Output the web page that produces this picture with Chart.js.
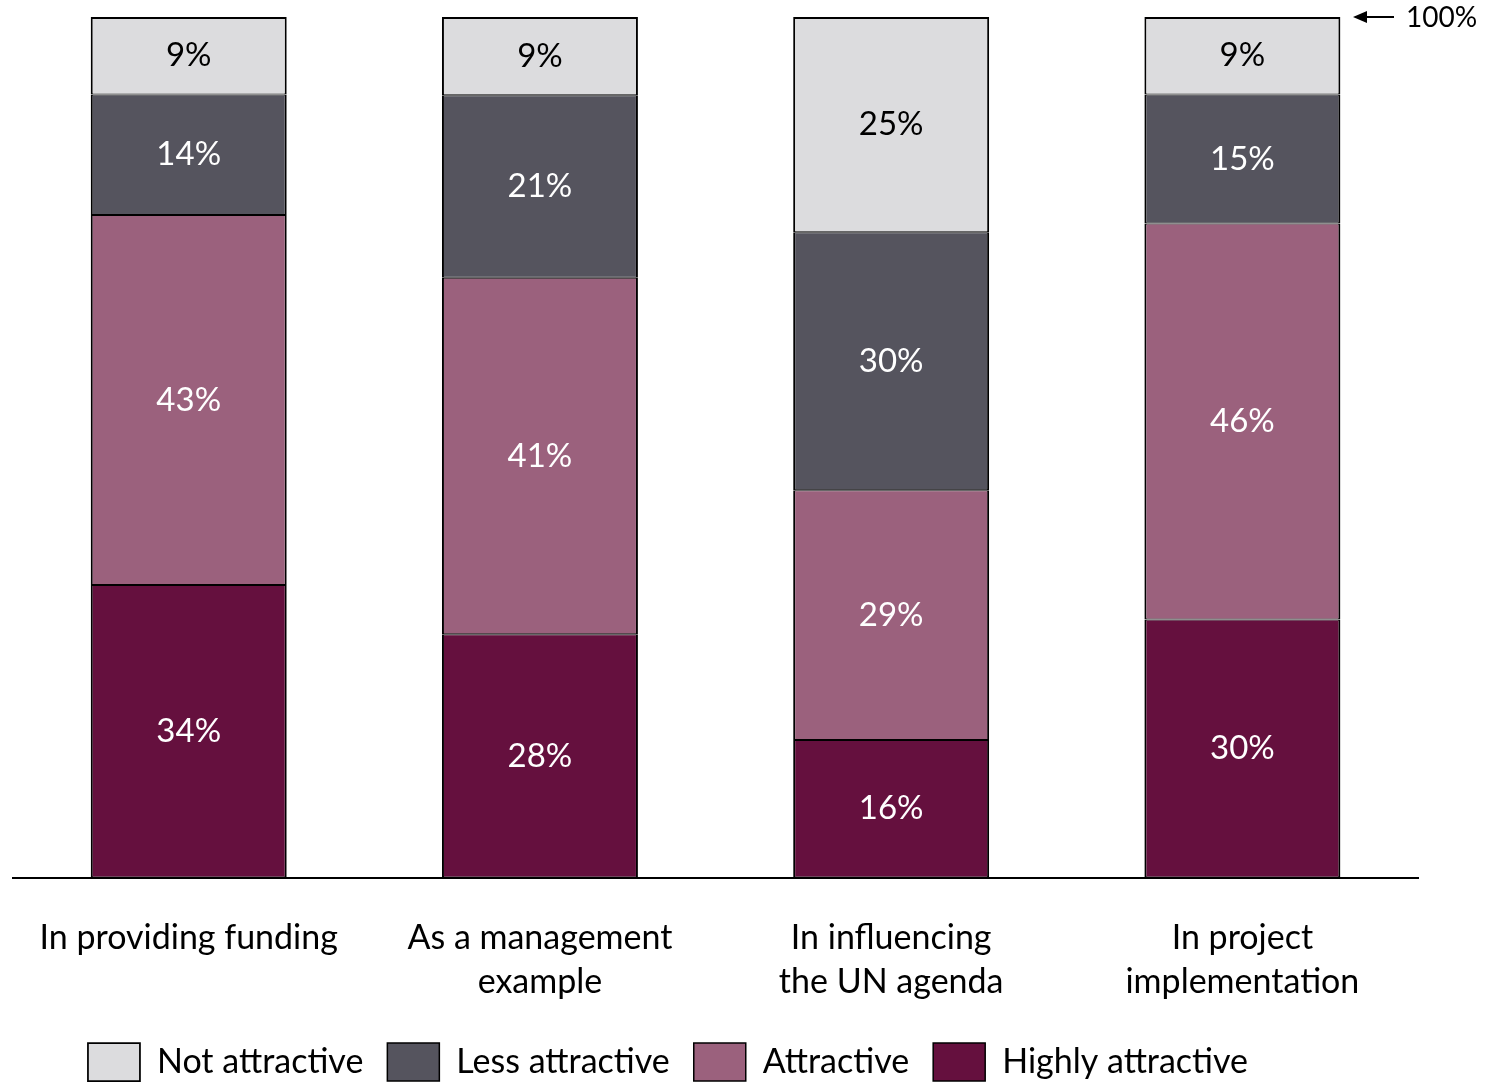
<!DOCTYPE html>
<html>
<head>
<meta charset="utf-8">
<script src="https://cdn.jsdelivr.net/npm/chart.js@4"></script>
<style>
  html, body { margin: 0; padding: 0; background: #fff; }
  #wrap { width: 1485px; height: 1083px; }
</style>
</head>
<body>
<div id="wrap"><canvas id="chartAttr"></canvas></div>
<script>
const categories = [
    ['In providing funding'],
    ['As a management', 'example'],
    ['In influencing', 'the UN agenda'],
    ['In project', 'implementation']
];
const highlyAttractive = [34, 28, 16, 30];
const attractive = [43, 41, 29, 46];
const lessAttractive = [14, 21, 30, 15];
const notAttractive = [9, 9, 25, 9];

const FONT = 'Lato, "Open Sans", sans-serif';
const LEGEND_SHIFT = -47;

// each bar is drawn as share of its own total (bars all reach 100%)
const totals = categories.map((c, i) =>
    highlyAttractive[i] + attractive[i] + lessAttractive[i] + notAttractive[i]);
const share = arr => arr.map((v, i) => v / totals[i] * 100);

const series = [
    { label: 'Highly attractive', raw: highlyAttractive, color: '#65103E', text: '#fff' },
    { label: 'Attractive', raw: attractive, color: '#9B617D', text: '#fff' },
    { label: 'Less attractive', raw: lessAttractive, color: '#55545E', text: '#fff' },
    { label: 'Not attractive', raw: notAttractive, color: '#DCDCDE', text: '#000' }
];

const segLabels = {
    id: 'segLabels',
    afterLayout(chart) {
        // legend sits a bit left of centre in the original
        chart.legend.left += LEGEND_SHIFT;
        chart.legend.right += LEGEND_SHIFT;
    },
    afterDatasetsDraw(chart) {
        const ctx = chart.ctx;
        ctx.save();
        ctx.font = '33px ' + FONT;
        ctx.textAlign = 'center';
        ctx.textBaseline = 'middle';
        chart.data.datasets.forEach((ds, di) => {
            chart.getDatasetMeta(di).data.forEach((bar, i) => {
                const mid = (bar.y + bar.base) / 2;
                ctx.fillStyle = series[di].text;
                ctx.fillText(series[di].raw[i] + '%', bar.x, mid);
            });
        });
        // 100% marker
        const y = chart.scales.y.getPixelForValue(100);
        ctx.strokeStyle = '#000';
        ctx.fillStyle = '#000';
        ctx.lineWidth = 2;
        ctx.beginPath();
        ctx.moveTo(1394, y);
        ctx.lineTo(1362, y);
        ctx.stroke();
        ctx.beginPath();
        ctx.moveTo(1353, y);
        ctx.lineTo(1367, y - 6);
        ctx.lineTo(1367, y + 6);
        ctx.closePath();
        ctx.fill();
        ctx.font = '28px ' + FONT;
        ctx.textAlign = 'left';
        ctx.fillText('100%', 1406, y + 1);
        ctx.restore();
    }
};

const ctx = document.getElementById('chartAttr');

new Chart(ctx, {
    type: 'bar',
    data: {
        labels: categories,
        datasets: series.map((s, i) => ({
            label: s.label,
            data: share(s.raw),
            backgroundColor: s.color,
            borderColor: '#000',
            borderWidth: { top: i === series.length - 1 ? 2 : 1, bottom: 1, left: 2, right: 2 },
            borderSkipped: false,
            categoryPercentage: 1,
            barPercentage: 0.558
        }))
    },
    options: {
        responsive: true,
        maintainAspectRatio: false,
        animation: false,
        layout: { padding: { top: 17, left: 12, right: 67, bottom: -8 } },
        scales: {
            x: {
                stacked: true,
                grid: { display: false, drawTicks: false },
                border: { display: true, color: '#000', width: 2 },
                ticks: {
                    color: '#000',
                    padding: 38,
                    font: { family: FONT, size: 34, lineHeight: 1.3 }
                },
                afterFit(scale) { scale.height -= 23; }
            },
            y: {
                stacked: true,
                display: false,
                min: 0,
                max: 100
            }
        },
        plugins: {
            legend: {
                position: 'bottom',
                reverse: true,
                labels: {
                    color: '#000',
                    boxWidth: 52,
                    boxHeight: 38,
                    padding: 24,
                    font: { family: FONT, size: 34 }
                }
            },
            tooltip: { enabled: false }
        }
    },
    plugins: [segLabels]
});
</script>
</body>
</html>
